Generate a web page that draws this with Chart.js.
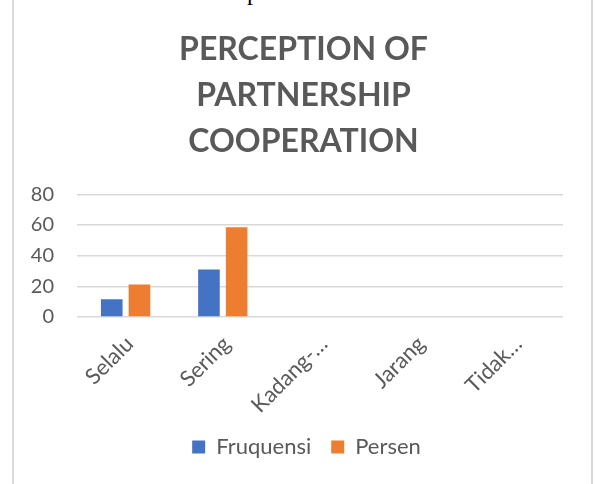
<!DOCTYPE html>
<html lang="en">
<head>
<meta charset="UTF-8">
<title>Perception of Partnership Cooperation</title>
<style>
  html, body { margin: 0; padding: 0; background: #fff; }
  #Wrap { position: relative; width: 595px; height: 484px; overflow: hidden; }
  #Frame { position: absolute; left: 12px; top: -4px; width: 577px; height: 494px;
           border-left: 2px solid #d9d9d9; border-right: 2px solid #d9d9d9; }
  #Above { position: absolute; left: 247px; top: -20px; font-family: 'Liberation Serif';
           font-size: 24px; line-height: 24px; color: #000; }
  #Grafico { position: absolute; left: 0; top: 0; }
</style>
</head>
<body>
<div id="Wrap">
  <div id="Frame"></div>
  <span id="Above">p</span>
  <canvas id="Grafico" width="595" height="484"></canvas>
</div>

<script src="https://cdn.jsdelivr.net/npm/chart.js"></script>
<script>
  // dados
  const categorias = ['Selalu', 'Sering', 'Kadang-…', 'Jarang', 'Tidak…'];
  const fruquensi = [11.5, 31, 0, 0, 0];
  const persen = [21.2, 58.5, 0, 0, 0];
  const ticksY = [0, 20, 40, 60, 80];
  const titulo = ['PERCEPTION OF', 'PARTNERSHIP', 'COOPERATION'];

  const cinza = '#595959';

  // titulo e legenda do original ficam um pouco a direita do centro
  const moveBlocos = {
    id: 'moveBlocos',
    afterLayout(chart) {
      chart.legend.left += 25;
      chart.legend.right += 25;
      chart.titleBlock.left += 22;
      chart.titleBlock.right += 22;
    }
  };

  const dados = {
    labels: categorias,
    datasets: [
      { label: 'Fruquensi', data: fruquensi, backgroundColor: '#4472C4',
        barPercentage: 0.78, categoryPercentage: 0.57 },
      { label: 'Persen', data: persen, backgroundColor: '#ED7D31',
        barPercentage: 0.78, categoryPercentage: 0.57 }
    ]
  };

  const config = {
    type: 'bar',
    data: dados,
    plugins: [moveBlocos],
    options: {
      responsive: false,
      animation: false,
      layout: { padding: { left: 0, right: 32, top: 0, bottom: 16 } },
      plugins: {
        title: {
          display: true,
          text: titulo,
          color: cinza,
          font: { family: 'Lato', size: 32, weight: 'bold', lineHeight: 1.43 },
          padding: { top: 27, bottom: 30 }
        },
        legend: {
          position: 'bottom',
          labels: {
            boxWidth: 13,
            boxHeight: 13,
            color: cinza,
            font: { family: 'Lato', size: 22 },
            padding: 20
          }
        },
        tooltip: { enabled: false }
      },
      scales: {
        x: {
          afterFit: (s) => { s.height = 99; },
          grid: { display: false, drawTicks: false },
          border: { display: false },
          ticks: {
            minRotation: 45, maxRotation: 45,
            color: cinza,
            font: { family: 'Lato', size: 22 },
            padding: 14,
            labelOffset: 4
          }
        },
        y: {
          min: 0, max: 80,
          afterBuildTicks: (s) => { s.ticks = ticksY.map(v => ({ value: v })); },
          afterFit: (s) => { s.width = 77; },
          grid: { color: '#d9d9d9', lineWidth: 1.5, drawTicks: false },
          border: { display: false },
          ticks: {
            color: cinza,
            font: { family: 'Lato', size: 20 },
            padding: 23
          }
        }
      }
    }
  };

  new Chart(document.getElementById('Grafico'), config);
</script>
</body>
</html>
